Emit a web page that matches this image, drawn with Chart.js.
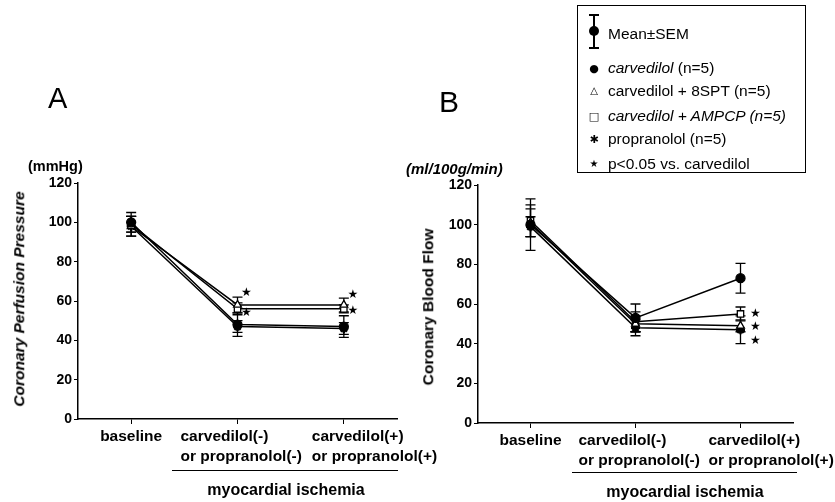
<!DOCTYPE html>
<html>
<head>
<meta charset="utf-8">
<script src="https://cdn.jsdelivr.net/npm/chart.js@4.4.0/dist/chart.umd.min.js"></script>
<style>
body { margin: 0; background: #fff; }
#wrap { position: relative; width: 835px; height: 502px; overflow: hidden; font-family: "Liberation Sans", Arial, sans-serif; color: #000; }
canvas { position: absolute; top: 0; }
.t { position: absolute; white-space: nowrap; line-height: 1; }
.b { font-weight: bold; }
.rot { transform: translate(-50%, -50%) rotate(-90deg); font-weight: bold; font-size: 15.5px; }
.ctr { transform: translateX(-50%); }
.rule { position: absolute; height: 0; border-top: 1.5px solid #000; }
#legend { position: absolute; left: 577px; top: 5px; width: 227px; height: 166px; border: 1px solid #000; font-size: 15.5px; }
#legend .row { position: absolute; left: 30px; white-space: nowrap; line-height: 1; transform: translateY(-50%); }
#legend .ico { position: absolute; left: 16px; transform: translate(-50%, -50%); line-height: 1; font-family: "DejaVu Sans", sans-serif; }
</style>
</head>
<body>
<div id="wrap">
  <canvas id="chartA" width="450" height="502" style="left:0"></canvas>
  <canvas id="chartB" width="435" height="502" style="left:400px"></canvas>

  <div class="t" style="left:48px;top:84px;font-size:29px">A</div>
  <div class="t" style="left:439px;top:87px;font-size:30px">B</div>
  <div class="t b" style="left:28px;top:159px;font-size:14.5px">(mmHg)</div>
  <div class="t b" style="left:406px;top:161px;font-size:15px;font-style:italic">(ml/100g/min)</div>
  <div class="t rot" style="left:19px;top:299px;font-style:italic">Coronary Perfusion Pressure</div>
  <div class="t rot" style="left:428px;top:307px">Coronary Blood Flow</div>

  <div class="rule" style="left:172px;top:470px;width:226px"></div>
  <div class="t b ctr" style="left:286px;top:482px;font-size:16px">myocardial ischemia</div>
  <div class="rule" style="left:572px;top:472px;width:225px"></div>
  <div class="t b ctr" style="left:685px;top:484px;font-size:16px">myocardial ischemia</div>

  <div id="legend">
    <div style="position:absolute;left:15px;top:8px;width:1.5px;height:34px;background:#000"></div>
    <div style="position:absolute;left:11px;top:8px;width:10px;height:1.5px;background:#000"></div>
    <div style="position:absolute;left:11px;top:41px;width:10px;height:1.5px;background:#000"></div>
    <div style="position:absolute;left:11px;top:20px;width:10px;height:10px;border-radius:50%;background:#000"></div>
    <div class="row" style="top:28px">Mean±SEM</div>
    <div class="ico" style="top:62px;font-size:11px">●</div>
    <div class="row" style="top:62px"><i>carvedilol</i> (n=5)</div>
    <div class="ico" style="top:85px;font-size:10px">△</div>
    <div class="row" style="top:85px">carvedilol + 8SPT (n=5)</div>
    <div class="ico" style="top:110px;font-size:11px">□</div>
    <div class="row" style="top:110px"><i>carvedilol + AMPCP (n=5)</i></div>
    <div class="ico" style="top:133px;font-size:11px;font-weight:bold">✱</div>
    <div class="row" style="top:133px">propranolol (n=5)</div>
    <div class="ico" style="top:158px;font-size:10px">★</div>
    <div class="row" style="top:158px">p&lt;0.05 vs. carvedilol</div>
  </div>
</div>

<script>
var categories = ['baseline', ['carvedilol(-)', 'or propranolol(-)'], ['carvedilol(+)', 'or propranolol(+)']];
var seriesNames = ['carvedilol (n=5)', 'carvedilol + 8SPT (n=5)', 'carvedilol + AMPCP (n=5)', 'propranolol (n=5)'];
var yTicks = [0, 20, 40, 60, 80, 100, 120];

// A: coronary perfusion pressure (mmHg)
var cppCarv = [100, 48, 47];
var cpp8spt = [98, 58, 58];
var cppAmpcp = [99, 56, 56];
var cppProp = [98, 47, 46];
var cppCarvSem = [5, 6, 5.5];
var cpp8sptSem = [5, 4, 3.5];
var cppAmpcpSem = [4, 3, 2];
var cppPropSem = [5, 3, 3];
var cppStars = [[1, 64], [1, 54], [2, 63], [2, 55]];

// B: coronary blood flow (ml/100g/min)
var cbfCarv = [100, 53, 73];
var cbf8spt = [101, 50, 49];
var cbfAmpcp = [102, 51, 55];
var cbfProp = [99, 48, 47];
var cbfCarvSem = [13, 7, 7.5];
var cbf8sptSem = [7, 4, 3];
var cbfAmpcpSem = [8, 5, 3.5];
var cbfPropSem = [5, 4, 7];
var cbfStars = [[2, 55], [2, 48.5], [2, 41.5]];

var pointStyles = ['circle', 'triangle', 'rect', 'star'];
var pointFills = ['#000', '#fff', '#fff', '#000'];
// the two-line tick labels are left aligned, a bit left of their tick
var tickShift = [null, -57, -32];

function extrasPlugin(sems, stars, starDx) {
    return {
        id: 'extras',
        beforeDatasetsDraw: function (chart) {
            var ctx = chart.ctx, x = chart.scales.x, y = chart.scales.y;
            ctx.save();
            ctx.strokeStyle = '#000';
            ctx.lineWidth = 1.3;
            chart.data.datasets.forEach(function (ds, d) {
                ds.data.forEach(function (v, i) {
                    var px = x.getPixelForValue(i);
                    var top = y.getPixelForValue(v + sems[d][i]);
                    var bot = y.getPixelForValue(v - sems[d][i]);
                    ctx.beginPath();
                    ctx.moveTo(px, top); ctx.lineTo(px, bot);
                    ctx.moveTo(px - 5, top); ctx.lineTo(px + 5, top);
                    ctx.moveTo(px - 5, bot); ctx.lineTo(px + 5, bot);
                    ctx.stroke();
                });
            });
            ctx.restore();
        },
        afterDraw: function (chart) {
            var ctx = chart.ctx, x = chart.scales.x, y = chart.scales.y;
            ctx.save();
            ctx.fillStyle = '#000';
            ctx.textBaseline = 'middle';
            ctx.font = '12px "DejaVu Sans"';
            ctx.textAlign = 'center';
            stars.forEach(function (s) {
                ctx.fillText('★', x.getPixelForValue(s[0]) + starDx, y.getPixelForValue(s[1]));
            });
            // category labels
            ctx.font = 'bold 15.5px "Liberation Sans", Arial';
            categories.forEach(function (lab, i) {
                var lines = Array.isArray(lab) ? lab : [lab];
                var px = x.getPixelForValue(i);
                ctx.textAlign = tickShift[i] == null ? 'center' : 'left';
                var sx = tickShift[i] == null ? px : px + tickShift[i];
                lines.forEach(function (t, k) {
                    ctx.fillText(t, sx, x.top + 18 + 20 * k);
                });
            });
            ctx.restore();
        }
    };
}

function buildChart(id, series, sems, stars, starDx, pad, xHeight) {
    var datasets = series.map(function (vals, i) {
        return {
            label: seriesNames[i],
            data: vals,
            borderColor: '#000',
            borderWidth: 1.5,
            pointStyle: pointStyles[i],
            pointRadius: 4.5,
            pointBorderWidth: i == 3 ? 2.5 : 1.3,
            pointBackgroundColor: pointFills[i],
            pointBorderColor: '#000',
            tension: 0
        };
    });
    return new Chart(document.getElementById(id), {
        type: 'line',
        data: { labels: categories, datasets: datasets },
        options: {
            responsive: false,
            animation: false,
            layout: { padding: pad },
            plugins: { legend: { display: false }, tooltip: { enabled: false } },
            scales: {
                x: {
                    offset: true,
                    afterFit: function (s) { s.height = xHeight; },
                    border: { display: true, color: '#000', width: 1.5 },
                    grid: { offset: false, drawOnChartArea: false, drawTicks: true, tickLength: 5, color: '#000' },
                    ticks: { display: false, autoSkip: false }
                },
                y: {
                    min: 0, max: 120,
                    afterFit: function (s) { s.width = 78; },
                    afterBuildTicks: function (s) { s.ticks = yTicks.map(function (v) { return { value: v }; }); },
                    border: { display: true, color: '#000', width: 1.5 },
                    grid: { drawOnChartArea: false, drawTicks: true, tickLength: 4, color: '#000' },
                    ticks: {
                        color: '#000', padding: 2,
                        font: { family: '"Liberation Sans", Arial', size: 14, weight: 'bold' }
                    }
                }
            }
        },
        plugins: [extrasPlugin(sems, stars, starDx)]
    });
}

buildChart('chartA',
    [cppCarv, cpp8spt, cppAmpcp, cppProp],
    [cppCarvSem, cpp8sptSem, cppAmpcpSem, cppPropSem],
    cppStars, 9,
    { top: 183, right: 53, bottom: 0, left: 0 }, 83);

buildChart('chartB',
    [cbfCarv, cbf8spt, cbfAmpcp, cbfProp],
    [cbfCarvSem, cbf8sptSem, cbfAmpcpSem, cbfPropSem],
    cbfStars, 15,
    { top: 185, right: 42, bottom: 0, left: 0 }, 79);
</script>
</body>
</html>
